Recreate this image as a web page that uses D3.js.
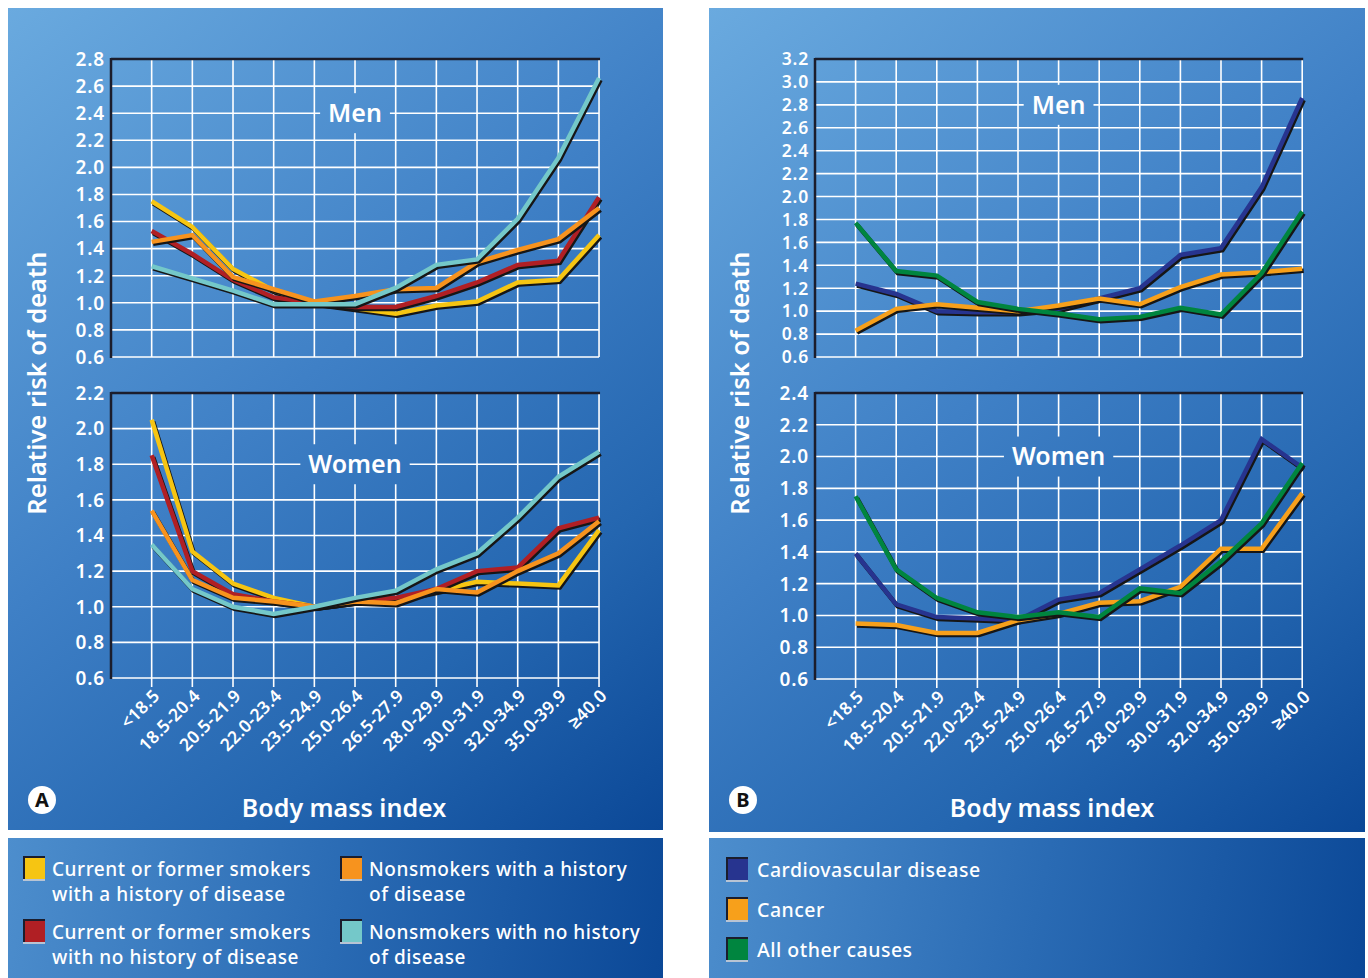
<!DOCTYPE html>
<html>
<head>
<meta charset="utf-8">
<script src="https://cdn.jsdelivr.net/npm/d3@7"></script>
<style>
  body { margin: 0; background: #fff; }
  svg text { font-family: "Noto Sans", sans-serif; font-weight: 600; fill: #fff; }
</style>
</head>
<body>
<svg id="chart" width="1368" height="978"></svg>
<script>
// ---- data ----
var bmiLabels = ["<18.5", "18.5-20.4", "20.5-21.9", "22.0-23.4", "23.5-24.9", "25.0-26.4",
                 "26.5-27.9", "28.0-29.9", "30.0-31.9", "32.0-34.9", "35.0-39.9", "\u226540.0"];

// panel A, men
var menSmokersHistory   = [1.75, 1.56, 1.25, 1.09, 1.00, 0.96, 0.92, 0.98, 1.01, 1.15, 1.17, 1.50];
var menSmokersNoHistory = [1.53, 1.36, 1.17, 1.04, 1.00, 0.97, 0.97, 1.05, 1.15, 1.28, 1.31, 1.78];
var menNonsmHistory     = [1.45, 1.50, 1.19, 1.10, 1.01, 1.05, 1.10, 1.11, 1.30, 1.39, 1.47, 1.70];
var menNonsmNoHistory   = [1.27, 1.18, 1.09, 0.99, 0.99, 0.99, 1.11, 1.28, 1.32, 1.62, 2.07, 2.66];

// panel A, women
var womenSmokersHistory   = [2.05, 1.31, 1.13, 1.05, 1.00, 1.03, 1.04, 1.09, 1.14, 1.13, 1.12, 1.43];
var womenSmokersNoHistory = [1.85, 1.20, 1.07, 1.03, 1.00, 1.03, 1.05, 1.10, 1.20, 1.22, 1.44, 1.50];
var womenNonsmHistory     = [1.54, 1.15, 1.05, 1.03, 1.00, 1.03, 1.02, 1.10, 1.08, 1.20, 1.30, 1.48];
var womenNonsmNoHistory   = [1.35, 1.10, 1.00, 0.96, 1.00, 1.05, 1.09, 1.21, 1.30, 1.50, 1.73, 1.87];

// panel B, men
var menCardio = [1.24, 1.15, 1.00, 0.99, 0.99, 1.02, 1.11, 1.20, 1.49, 1.55, 2.08, 2.86];
var menCancer = [0.83, 1.02, 1.06, 1.03, 1.00, 1.05, 1.11, 1.06, 1.21, 1.32, 1.34, 1.37];
var menOther  = [1.77, 1.35, 1.31, 1.08, 1.02, 0.98, 0.93, 0.95, 1.03, 0.97, 1.33, 1.87];

// panel B, women
var womenCardio = [1.39, 1.07, 0.99, 0.98, 0.97, 1.10, 1.14, 1.29, 1.44, 1.60, 2.11, 1.93];
var womenCancer = [0.95, 0.94, 0.89, 0.89, 0.97, 1.01, 1.08, 1.09, 1.18, 1.42, 1.42, 1.77];
var womenOther  = [1.75, 1.29, 1.11, 1.02, 0.99, 1.02, 0.99, 1.17, 1.14, 1.34, 1.58, 1.96];

var groupNamesA = [["Current or former smokers", "with a history of disease"],
                   ["Current or former smokers", "with no history of disease"],
                   ["Nonsmokers with a history", "of disease"],
                   ["Nonsmokers with no history", "of disease"]];
var groupColorsA = ["#f6c512", "#b01f24", "#f7931e", "#74c8c9"];
var causeNames = ["Cardiovascular disease", "Cancer", "All other causes"];
var causeColors = ["#27348f", "#f7a01b", "#00853f"];

var svg = d3.select("#chart");
var defs = svg.append("defs");

function makeGradient(id, x1, y1, x2, y2, stops) {
  var g = defs.append("linearGradient").attr("id", id)
      .attr("gradientUnits", "userSpaceOnUse")
      .attr("x1", x1).attr("y1", y1).attr("x2", x2).attr("y2", y2);
  stops.forEach(function(s) {
    g.append("stop").attr("offset", s[0]).attr("stop-color", s[1]);
  });
}

makeGradient("gradA", 8, 8, 663, 830, [[0, "#6aaadf"], [0.45, "#3f80c6"], [0.75, "#2466b0"], [1, "#0b4897"]]);
makeGradient("gradB", 709, 8, 1365, 832, [[0, "#6aaadf"], [0.45, "#3f80c6"], [0.75, "#2466b0"], [1, "#0b4897"]]);
makeGradient("legA", 8, 838, 663, 978, [[0, "#4d8ecd"], [0.5, "#2a6bb4"], [1, "#0b4897"]]);
makeGradient("legB", 709, 838, 1365, 978, [[0, "#4d8ecd"], [0.5, "#2a6bb4"], [1, "#0b4897"]]);

// backgrounds
svg.append("rect").attr("x", 8).attr("y", 8).attr("width", 655).attr("height", 822).attr("fill", "url(#gradA)");
svg.append("rect").attr("x", 709).attr("y", 8).attr("width", 656).attr("height", 824).attr("fill", "url(#gradB)");
svg.append("rect").attr("x", 8).attr("y", 838).attr("width", 655).attr("height", 140).attr("fill", "url(#legA)");
svg.append("rect").attr("x", 709).attr("y", 838).attr("width", 656).attr("height", 140).attr("fill", "url(#legB)");

function drawChart(o) {
  var g = svg.append("g");

  var x = d3.scalePoint().domain(bmiLabels).range([o.left + o.step, o.left + o.step * 12]);
  var y = d3.scaleLinear().domain([o.yMin, o.yMax]).range([o.bottom, o.top]);
  var yTicks = d3.range(Math.round((o.yMax - o.yMin) / 0.2) + 1).map(function(i) { return o.yMin + i * 0.2; });

  // grid
  g.selectAll(".hgrid").data(yTicks).enter().append("line")
      .attr("x1", o.left).attr("x2", x(bmiLabels[11]))
      .attr("y1", function(d) { return y(d); }).attr("y2", function(d) { return y(d); })
      .attr("stroke", "#fff").attr("stroke-width", 1.6);
  g.selectAll(".vgrid").data(bmiLabels).enter().append("line")
      .attr("x1", function(d) { return x(d); }).attr("x2", function(d) { return x(d); })
      .attr("y1", o.top).attr("y2", o.bottom + (o.ticks ? 9 : 0))
      .attr("stroke", "#fff").attr("stroke-width", 1.6);

  // dark frame top & left
  g.append("line").attr("x1", o.left).attr("x2", x(bmiLabels[11]) + 1)
      .attr("y1", o.top).attr("y2", o.top).attr("stroke", "#1b1d2c").attr("stroke-width", 2.5);
  g.append("line").attr("x1", o.left).attr("x2", o.left)
      .attr("y1", o.top - 1).attr("y2", o.bottom + 1).attr("stroke", "#1b1d2c").attr("stroke-width", 2.5);

  // y tick labels
  g.selectAll(".ylab").data(yTicks).enter().append("text")
      .attr("x", o.left - 6).attr("y", function(d) { return y(d); })
      .attr("dy", "0.36em").attr("text-anchor", "end")
      .style("font-size", o.tickSize + "px").style("letter-spacing", "0.8px")
      .text(function(d) { return d3.format(".1f")(d); });

  // title knocked out of grid
  var tx = x(bmiLabels[5]), ty = y(o.titleAt);
  var title = g.append("text").attr("x", tx).attr("y", ty).attr("dy", "0.35em")
      .attr("text-anchor", "middle").style("font-size", "25px").text(o.title);
  var tw = title.node().getComputedTextLength();
  g.insert("rect", function() { return title.node(); })
      .attr("x", tx - tw / 2 - 8).attr("y", ty - 20).attr("width", tw + 16).attr("height", 40)
      .attr("fill", o.fill);

  // lines with dark drop shadow
  var line = d3.line()
      .x(function(d, i) { return x(bmiLabels[i]); })
      .y(function(d) { return y(d); });

  o.series.forEach(function(s, i) {
    g.append("path").datum(s).attr("d", line)
        .attr("transform", "translate(1.5,2)")
        .attr("fill", "none").attr("stroke", "#161616").attr("stroke-width", 4.5)
        .attr("stroke-linejoin", "miter");
    g.append("path").datum(s).attr("d", line)
        .attr("fill", "none").attr("stroke", o.colors[i]).attr("stroke-width", 4.5)
        .attr("stroke-linejoin", "miter");
  });

  // x tick labels
  if (o.ticks) {
    g.selectAll(".xlab").data(bmiLabels).enter().append("text")
        .attr("transform", function(d) { return "translate(" + (x(d) + 9) + "," + (o.bottom + 19) + ") rotate(-45)"; })
        .attr("text-anchor", "end")
        .style("font-size", "17.5px").style("letter-spacing", "0.3px")
        .text(function(d) { return d; });
  }
}

function drawPanel(p) {
  svg.append("text")
      .attr("transform", "translate(" + p.ytitleX + ",383) rotate(-90)")
      .attr("text-anchor", "middle").attr("dy", "0.35em")
      .style("font-size", "25.5px").text("Relative risk of death");
  svg.append("text").attr("x", p.xtitleX).attr("y", 817)
      .attr("text-anchor", "middle").style("font-size", "25px").text("Body mass index");
  svg.append("circle").attr("cx", p.badgeX).attr("cy", 800).attr("r", 14).attr("fill", "#fff");
  svg.append("text").attr("x", p.badgeX).attr("y", 800).attr("dy", "0.36em")
      .attr("text-anchor", "middle").style("font-size", "20px").style("font-weight", 700)
      .style("fill", "#111").text(p.badge);
}

drawChart({ left: 111, step: 40.67, top: 59, bottom: 357, yMin: 0.6, yMax: 2.8, tickSize: 19,
  title: "Men", titleAt: 2.4, fill: "url(#gradA)", ticks: false, colors: groupColorsA,
  series: [menSmokersHistory, menSmokersNoHistory, menNonsmHistory, menNonsmNoHistory] });
drawChart({ left: 111, step: 40.67, top: 393, bottom: 678, yMin: 0.6, yMax: 2.2, tickSize: 19,
  title: "Women", titleAt: 1.8, fill: "url(#gradA)", ticks: true, colors: groupColorsA,
  series: [womenSmokersHistory, womenSmokersNoHistory, womenNonsmHistory, womenNonsmNoHistory] });
drawChart({ left: 815, step: 40.6, top: 59, bottom: 357, yMin: 0.6, yMax: 3.2, tickSize: 17.5,
  title: "Men", titleAt: 2.8, fill: "url(#gradB)", ticks: false, colors: causeColors,
  series: [menCardio, menCancer, menOther] });
drawChart({ left: 815, step: 40.6, top: 393, bottom: 679, yMin: 0.6, yMax: 2.4, tickSize: 19,
  title: "Women", titleAt: 2.0, fill: "url(#gradB)", ticks: true, colors: causeColors,
  series: [womenCardio, womenCancer, womenOther] });

drawPanel({ ytitleX: 37, xtitleX: 344, badgeX: 42, badge: "A" });
drawPanel({ ytitleX: 740, xtitleX: 1052, badgeX: 743, badge: "B" });

// legends
function swatch(x, y, color) {
  svg.append("rect").attr("x", x).attr("y", y).attr("width", 22).attr("height", 25).attr("fill", color);
  svg.append("rect").attr("x", x).attr("y", y).attr("width", 22).attr("height", 2).attr("fill", "#1b1d2c");
  svg.append("rect").attr("x", x).attr("y", y).attr("width", 2).attr("height", 25).attr("fill", "#1b1d2c");
  svg.append("rect").attr("x", x).attr("y", y + 23).attr("width", 22).attr("height", 2).attr("fill", "#b8c4d4");
}

var legPosA = [[23, 856], [23, 919], [340, 856], [340, 919]];
groupNamesA.forEach(function(name, i) {
  var px = legPosA[i][0], py = legPosA[i][1];
  swatch(px, py, groupColorsA[i]);
  name.forEach(function(line, j) {
    svg.append("text").attr("x", px + 29).attr("y", py + 13 + j * 25).attr("dy", "0.35em")
        .style("font-size", "19px").style("letter-spacing", "0.55px")
        .style("font-weight", 500).text(line);
  });
});

causeNames.forEach(function(name, i) {
  var py = 857 + i * 40;
  swatch(726, py, causeColors[i]);
  svg.append("text").attr("x", 757).attr("y", py + 13).attr("dy", "0.35em")
      .style("font-size", "19.5px").style("letter-spacing", "0.5px")
      .style("font-weight", 500).text(name);
});
</script>
</body>
</html>
